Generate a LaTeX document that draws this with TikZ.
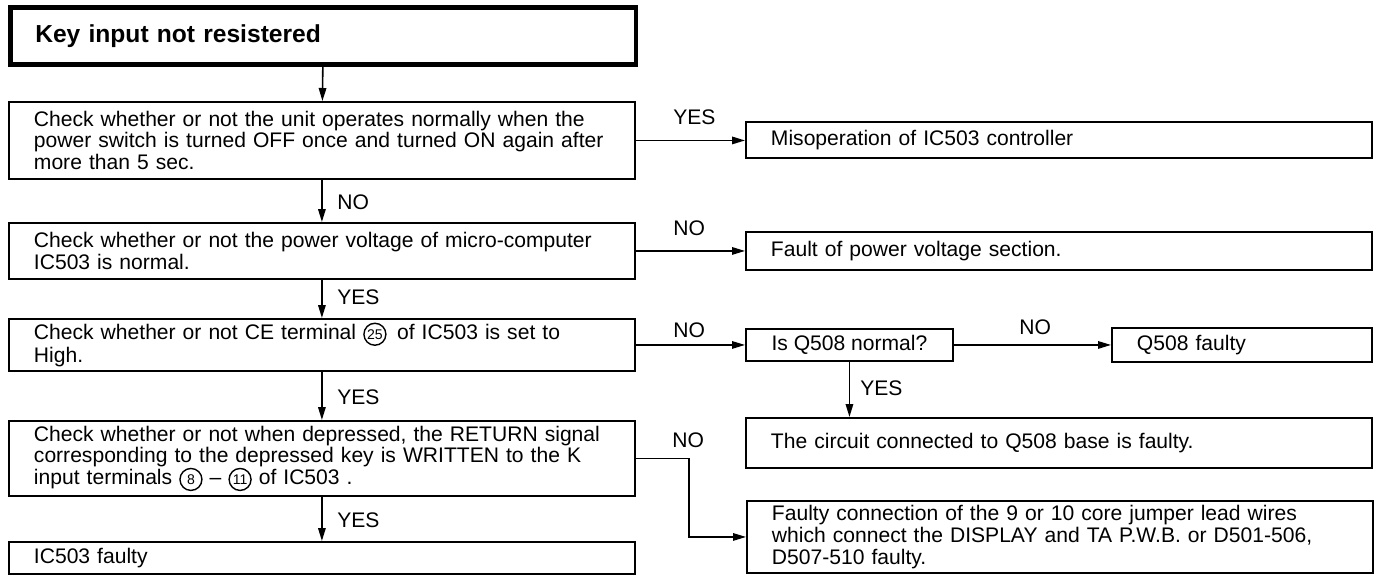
\documentclass[tikz,border=0pt]{standalone}
\usepackage{fontspec}
\setmainfont{Liberation Sans}
\usetikzlibrary{arrows.meta}
\newcommand{\circnum}[1]{\tikz[baseline=(cn.base)]\node[draw,circle,line width=0.8pt,inner sep=0.2pt,minimum size=12.5pt,font=\fontsize{8}{8}\selectfont](cn){#1};}

\begin{document}
\begin{tikzpicture}[x=0.02cm,y=-0.02cm,
        font=\fontsize{12}{12.3}\selectfont,
        box/.style={draw,line width=1.1pt,anchor=north west,align=left,inner xsep=0.5cm,inner ysep=2pt,
            execute at begin node={\hyphenpenalty=10000\exhyphenpenalty=10000}},
        wide/.style={box,text width=11.52cm},
        flow/.style={line width=0.9pt,-{Triangle[length=2.6mm,width=1.5mm]}},
        lbl/.style={anchor=west,inner sep=0pt}]
    \useasboundingbox (0,0) rectangle (1379,577);

    \node[wide,line width=2.6pt,minimum height=1.14cm,font=\fontsize{14}{14}\selectfont\bfseries] (start) at (8,5) {Key input not resistered};
    \node[wide,minimum height=1.54cm] (chkpower) at (8,101) {Check whether or not the unit operates normally when the\\power switch is turned OFF once and turned ON again after\\more than 5 sec.};
    \node[wide,minimum height=1.12cm] (chkvolt) at (8,222) {Check whether or not the power voltage of micro-computer\\IC503 is normal.};
    \node[wide,minimum height=1.04cm] (chkce) at (8,318) {Check whether or not CE terminal \circnum{25}\, of IC503 is set to\\High.};
    \node[wide,minimum height=1.5cm] (chkret) at (8,420) {Check whether or not when depressed, the RETURN signal\\corresponding to the depressed key is WRITTEN to the K\\input terminals \circnum{8} – \circnum{11} of IC503 .};
    \node[wide,minimum height=0.64cm] (icfault) at (8,541) {IC503 faulty};

    \node[wide,minimum height=0.72cm] (misop) at (745,121) {Misoperation of IC503 controller};
    \node[wide,minimum height=0.76cm] (voltfault) at (745,231) {Fault of power voltage section.};
    \node[box,align=center,inner xsep=0.2cm,minimum width=4.14cm,minimum height=0.64cm] (qnormal) at (745,328) {Is Q508 normal?};
    \node[box,text width=4.2cm,minimum height=0.68cm] (qfault) at (1111,327) {Q508 faulty};
    \node[wide,minimum height=1cm] (basefault) at (745,417) {The circuit connected to Q508 base is faulty.};
    \node[wide,minimum height=1.44cm] (wirefault) at (746,500) {Faulty connection of the 9 or 10 core jumper lead wires\\which connect the DISPLAY and TA P.W.B. or D501-506,\\D507-510 faulty.};

    \node[lbl] (no1) at (337,202) {NO};
    \node[lbl] (yes2) at (337,297) {YES};
    \node[lbl] (yes3) at (337,397) {YES};
    \node[lbl] (yes4) at (337,520) {YES};
    \node[lbl] (yes1) at (673,117) {YES};
    \node[lbl] (no2) at (673,228) {NO};
    \node[lbl] (no3) at (673,330) {NO};
    \node[lbl] (no5) at (1019,327) {NO};
    \node[lbl] (yes5) at (860,388) {YES};
    \node[lbl] (no4) at (672,440) {NO};

    \draw[flow] (start) -- (chkpower);
    \draw[flow] (chkpower) -- (chkvolt);
    \draw[flow] (chkvolt) -- (chkce);
    \draw[flow] (chkce) -- (chkret);
    \draw[flow] (chkret) -- (icfault);
    \draw[flow] (chkpower.east) -- (chkpower.east -| misop.west);
    \draw[flow] (chkvolt.east) -- (chkvolt.east -| voltfault.west);
    \draw[flow] (chkce.east) -- (chkce.east -| qnormal.west);
    \draw[flow] (qnormal.east) -- (qnormal.east -| qfault.west);
    \draw[flow] (qnormal.south) -- (qnormal.south |- basefault.north);
    \draw[flow] (chkret.east) -- ++(53,0) |- (wirefault.west);
\end{tikzpicture}
\end{document}
